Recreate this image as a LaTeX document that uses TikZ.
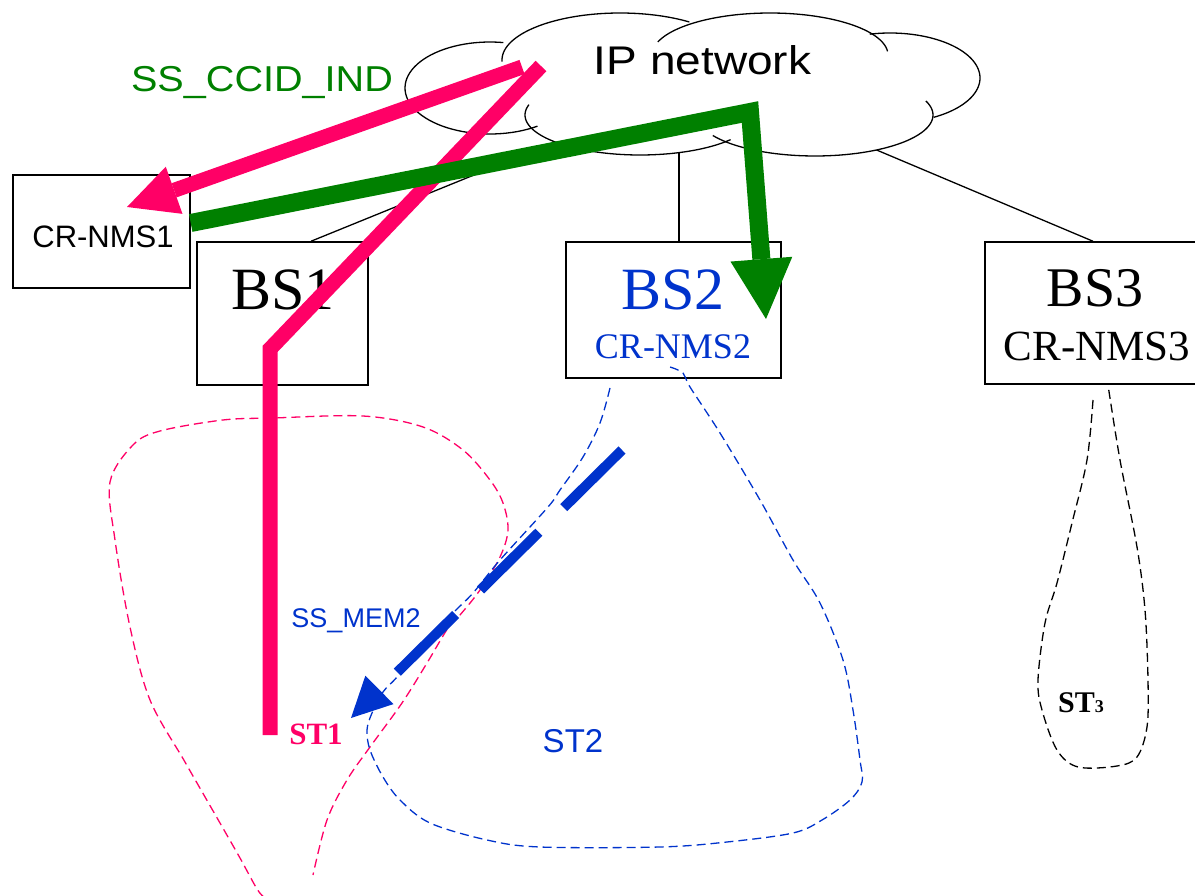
\documentclass[tikz,border=0pt]{standalone}
\usepackage{fontspec}
\setmainfont{Liberation Serif}
\setsansfont{Liberation Sans}
\usetikzlibrary{arrows.meta}
\definecolor{stpink}{HTML}{FF0066}
\definecolor{stgreen}{HTML}{008000}
\definecolor{stblue}{HTML}{0033CC}
\newcommand{\fsz}[1]{\fontsize{#1}{#1}\selectfont}

\begin{document}
\begin{tikzpicture}[x=1pt,y=-1pt,
    box/.style={draw,line width=1.5pt,fill=white,inner sep=0pt},
    lbl/.style={inner sep=0pt,anchor=base},
    wire/.style={line width=1.3pt},
    area/.style={line width=1.3pt,dash pattern=on 9pt off 5pt,smooth,tension=0.55},
    fat/.style={line width=#1,line join=miter}]
  \useasboundingbox (0,0) rectangle (1195,896);

  \node[box,minimum width=177pt,minimum height=113pt] (crnms1) at (101.5,231.5) {};
  \node[box,minimum width=171pt,minimum height=143pt] (bs1) at (282.5,313.5) {};
  \node[box,minimum width=215pt,minimum height=136pt] (bs2) at (673.5,310) {};
  \node[box,minimum width=225pt,minimum height=142pt] (bs3) at (1097.5,313) {};

  \coordinate (net1) at (565,138);
  \coordinate (net2) at (679,140);
  \coordinate (net3) at (860,143);
  \draw[wire] ([xshift=28.5pt]bs1.north) -- (net1);
  \draw[wire] ([xshift=5.5pt]bs2.north) -- (net2);
  \draw[wire] ([xshift=-4.5pt]bs3.north) -- (net3);

  % cloud
  \foreach \cx/\cy/\rx/\ry/\a/\b in {490/88/85/46/56/279, 620/60/118/47/178/306,
      770/55/118/42/198/355, 890/78/90/45/257/421, 815/115/118/41/-20/150, 640/115/115/40/38/195}
    \fill[white] (\cx,\cy) ellipse [x radius=\rx, y radius=\ry];
  \foreach \cx/\cy/\rx/\ry/\a/\b in {490/88/85/46/56/279, 620/60/118/47/178/306,
      770/55/118/42/198/355, 890/78/90/45/257/421, 815/115/118/41/-20/150, 640/115/115/40/38/195}
    \draw[wire,domain=\a:\b,samples=60,variable=\t] plot ({\cx+\rx*cos(\t)},{\cy+\ry*sin(\t)});

  \node[lbl,font=\sffamily\fsz{40},xscale=1.15] (ipnet) at (702.5,75) {IP network};
  \node[lbl,font=\sffamily\fsz{36},text=stgreen,xscale=1.1] (ccid) at (262,92) {SS\_CCID\_IND};
  \node[lbl,font=\sffamily\fsz{31}] (crnms1-t) at (103,248) {CR-NMS1};
  \node[lbl,font=\fsz{60}] (bs1-t) at (283,310) {BS1};
  \node[lbl,font=\fsz{60},text=stblue] (bs2-t) at (673,310) {BS2};
  \node[lbl,font=\fsz{36},text=stblue] (crnms2-t) at (673,358) {CR-NMS2};
  \node[lbl,font=\fsz{56}] (bs3-t) at (1095,306) {BS3};
  \node[lbl,font=\fsz{43}] (crnms3-t) at (1097,360) {CR-NMS3};
  \node[lbl,font=\sffamily\fsz{27},text=stblue] (mem) at (356,627) {SS\_MEM2};
  \node[lbl,font=\bfseries\fsz{31},text=stpink] (st1) at (316,744) {ST1};
  \node[lbl,font=\sffamily\fsz{33},text=stblue] (st2) at (573,752) {ST2};
  \node[lbl,anchor=base west,font=\bfseries\fsz{30}] (st3) at (1058,712) {ST{\fsz{18}3}};

  \draw[area,stpink] plot coordinates {(264,897) (257,889) (240,858) (220,823) (185,762)
    (150,700) (130,627) (115,540) (110,482) (133,445) (160,431) (223,420) (273,418)
    (363,416) (423,427) (463,450) (490,480) (503,503) (508,530) (500,557) (480,590)
    (460,615) (448,628) (427,663) (402,703) (370,747) (347,780) (327,820) (313,875)};
  \draw[area,stblue] plot coordinates {(610,388) (600,423) (583,457) (560,490) (548,507)
    (500,560) (473,593) (453,613) (420,648) (397,677) (383,692) (372,713) (367,730)
    (370,750) (383,777) (400,800) (430,823) (487,840) (540,847) (660,847) (727,842)
    (793,833) (822,820) (850,800) (862,782) (860,760) (853,710) (843,660) (820,603)
    (793,560) (760,500) (720,433) (690,387) (683,373) (670,367)};
  \draw[area] plot coordinates {(1093,400) (1087,460) (1072,523) (1057,583) (1045,623)
    (1038,680) (1042,710) (1057,750) (1078,767) (1117,766) (1137,757) (1147,727)
    (1148,680) (1145,610) (1137,547) (1120,460) (1108,385)};

  \coordinate (pk-a) at (522,67);
  \coordinate (pk-tip) at (127,207);
  \draw[stpink,fat=15pt,-{Triangle[length=50pt,width=50pt,line width=0pt]}] (pk-a) -- (pk-tip);
  \coordinate (pm-a) at (541,66);
  \coordinate (pm-b) at (270,349);
  \coordinate (pm-c) at (270,735);
  \draw[stpink,fat=15pt] (pm-a) -- (pm-b) -- (pm-c);
  \coordinate (gr-b) at (750,112);
  \coordinate (gr-tip) at (766,319);
  \draw[stgreen,fat=18pt,-{Triangle[length=60pt,width=62pt,line width=0pt]}]
    ([yshift=8.5pt]crnms1.east) -- (gr-b) -- (gr-tip);
  \coordinate (bl-a) at (622,450);
  \coordinate (bl-tip) at (351,718);
  \draw[stblue,fat=10pt,dash pattern=on 82pt off 35pt,
    -{Triangle[length=40pt,width=40pt,line width=0pt]}] (bl-a) -- (bl-tip);
\end{tikzpicture}
\end{document}
